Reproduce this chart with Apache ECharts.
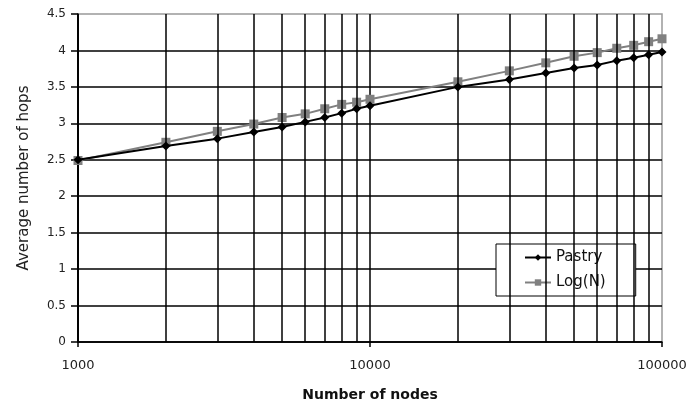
<!DOCTYPE html>
<html>
<head>
<meta charset="utf-8">
<script src="https://cdn.jsdelivr.net/npm/echarts@6/dist/echarts.min.js"></script>
<style>
html, body { margin: 0; padding: 0; background: #fff; }
#main { width: 690px; height: 407px; }
</style>
</head>
<body>
<div id="main"></div>
<script>
// number of nodes (x, log scale)
var nodes = [1000, 2000, 3000, 4000, 5000, 6000, 7000, 8000, 9000, 10000,
    20000, 30000, 40000, 50000, 60000, 70000, 80000, 90000, 100000];
// hops
var pastry = [2.5, 2.69, 2.79, 2.88, 2.95, 3.02, 3.08, 3.14, 3.2, 3.24,
    3.5, 3.6, 3.69, 3.76, 3.8, 3.86, 3.9, 3.94, 3.98];
var logN = [2.49, 2.74, 2.89, 2.99, 3.08, 3.13, 3.2, 3.26, 3.29, 3.33,
    3.57, 3.72, 3.83, 3.92, 3.97, 4.03, 4.07, 4.12, 4.16];
// vertical grid lines between the decades
var minorX = [2000, 3000, 4000, 5000, 6000, 7000, 8000, 9000,
    20000, 30000, 40000, 50000, 60000, 70000, 80000, 90000];

function pairs(xs, ys) {
    var out = [];
    for (var i = 0; i < xs.length; i++) {
        out.push([xs[i], ys[i]]);
    }
    return out;
}

var font = 'DejaVu Sans';

var option = {
    animation: false,
    grid: {
        left: 78,
        right: 28,
        top: 14,
        bottom: 64,
        show: true,
        borderColor: '#999',
        borderWidth: 1.5
    },
    legend: {
        data: ['Pastry', 'Log(N)'],
        orient: 'vertical',
        left: 496,
        top: 244,
        backgroundColor: '#fff',
        borderColor: '#000',
        borderWidth: 1,
        borderRadius: 0,
        padding: [6, 30, 6, 28],
        itemWidth: 26,
        itemHeight: 8,
        itemGap: 10,
        textStyle: { fontFamily: font, fontSize: 15, color: '#111' }
    },
    xAxis: {
        type: 'log',
        logBase: 10,
        min: 1000,
        max: 100000,
        name: 'Number of nodes',
        nameLocation: 'middle',
        nameGap: 46,
        nameTextStyle: { fontFamily: font, fontSize: 14, fontWeight: 'bold', color: '#111' },
        axisLine: { lineStyle: { color: '#000', width: 1.5 } },
        axisTick: { show: true, length: 5, lineStyle: { color: '#000', width: 1.5 } },
        axisLabel: {
            margin: 17,
            fontFamily: font,
            fontSize: 13,
            color: '#222',
            formatter: function (v) { return String(Math.round(v)); }
        },
        splitLine: { show: true, showMaxLine: false, lineStyle: { color: '#000', width: 1.5 } }
    },
    yAxis: {
        type: 'value',
        min: 0,
        max: 4.5,
        interval: 0.5,
        name: 'Average number of hops',
        nameLocation: 'middle',
        nameRotate: 90,
        nameGap: 46,
        nameTextStyle: { fontFamily: font, fontSize: 15, color: '#222' },
        axisLine: { show: true, lineStyle: { color: '#000', width: 1.5 } },
        axisTick: { show: true, length: 7, lineStyle: { color: '#000', width: 1.5 } },
        axisLabel: { margin: 12, fontFamily: font, fontSize: 12, color: '#222' },
        splitLine: { show: true, showMaxLine: false, lineStyle: { color: '#000', width: 1.5 } }
    },
    series: [
        {
            name: 'grid',
            type: 'line',
            data: [],
            z: 1,
            silent: true,
            markLine: {
                silent: true,
                symbol: ['none', 'none'],
                label: { show: false },
                lineStyle: { color: '#000', width: 1.5, type: 'solid' },
                data: minorX.map(function (v) { return { xAxis: v }; })
            }
        },
        {
            name: 'Log(N)',
            type: 'line',
            z: 3,
            data: pairs(nodes, logN),
            symbol: 'rect',
            symbolSize: 9,
            itemStyle: { color: '#808080' },
            lineStyle: { color: '#808080', width: 2 }
        },
        {
            name: 'Pastry',
            type: 'line',
            z: 4,
            data: pairs(nodes, pastry),
            symbol: 'diamond',
            symbolSize: 9,
            itemStyle: { color: '#000' },
            lineStyle: { color: '#000', width: 2 }
        }
    ]
};

var chart = echarts.init(document.getElementById('main'));
chart.setOption(option);
</script>
</body>
</html>
